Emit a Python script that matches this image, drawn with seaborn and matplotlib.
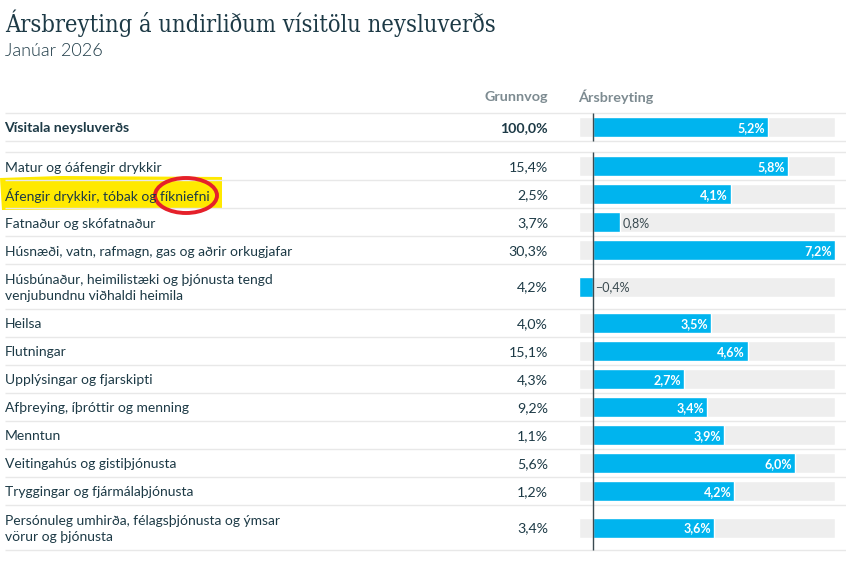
"""
Arsbreyting a undirlidum visitolu neysluverds - table with diverging bars
"""

import pandas as pd
import matplotlib
matplotlib.use("Agg")
import matplotlib.pyplot as plt
from matplotlib.patches import Ellipse, Polygon
import seaborn as sns

categories = [
    "Vísitala neysluverðs",
    "Matur og óáfengir drykkir",
    "Áfengir drykkir, tóbak og fíkniefni",
    "Fatnaður og skófatnaður",
    "Húsnæði, vatn, rafmagn, gas og aðrir orkugjafar",
    "Húsbúnaður, heimilistæki og þjónusta tengd\nvenjubundnu viðhaldi heimila",
    "Heilsa",
    "Flutningar",
    "Upplýsingar og fjarskipti",
    "Afþreying, íþróttir og menning",
    "Menntun",
    "Veitingahús og gistiþjónusta",
    "Tryggingar og fjármálaþjónusta",
    "Persónuleg umhirða, félagsþjónusta og ýmsar\nvörur og þjónusta",
]
weights = [100.0, 15.4, 2.5, 3.7, 30.3, 4.2, 4.0, 15.1, 4.3, 9.2, 1.1, 5.6, 1.2, 3.4]
changes = [5.2, 5.8, 4.1, 0.8, 7.2, -0.4, 3.5, 4.6, 2.7, 3.4, 3.9, 6.0, 4.2, 3.6]

TITLE = "Ársbreyting á undirliðum vísitölu neysluverðs"
SUBTITLE = "Janúar 2026"
HEAD_WEIGHT = "Grunnvog"
HEAD_CHANGE = "Ársbreyting"

INK = "#1d3a46"
HEAD_INK = "#7d8b91"
RULE = "#e8e8e8"
BLUE = "#00b4ee"
TRACK = "#eeeeee"

W, H = 846, 566
X_MIN, X_MAX = -0.44, 7.2
TRACK_MIN = -0.415


def fmt(v):
    return f"{v:.1f}%".replace(".", ",").replace("-", "\u2212")


# ------ row layout (pixels from top) ------
tops, bottoms = [], []
y = 113
for i, name in enumerate(categories):
    h = 45 if "\n" in name else 28
    tops.append(y)
    bottoms.append(y + h)
    y += h
    if i == 0:
        y += 11
centers = [(a + b) / 2 for a, b in zip(tops, bottoms)]

df = pd.DataFrame({"pos": centers, "change": changes})

sns.set_theme(style="white")
plt.rcParams["font.family"] = ["Lato", "DejaVu Sans"]

fig = plt.figure(figsize=(W / 100, H / 100), dpi=100)
fig.patch.set_facecolor("white")

# full-figure layer in pixel coordinates for the table part
bg = fig.add_axes([0, 0, 1, 1])
bg.set_xlim(0, W)
bg.set_ylim(H, 0)
bg.axis("off")

# ------ highlight drawn by hand on the screenshot ------
bg.add_patch(Polygon([(0, 178), (60, 176), (222, 177), (222, 209), (120, 209), (2, 210)],
                     closed=True, color="#ffe900", lw=0, zorder=1))
bg.add_patch(Ellipse((186, 195.5), 62, 35, fill=False, ec="#e5202a", lw=2.8, zorder=5))

# ------ rules ------
for yy in sorted(set(tops + bottoms)):
    bg.plot([5, 846], [yy, yy], color=RULE, lw=1, zorder=2, solid_capstyle="butt")

# ------ text ------
bg.text(5, 23, TITLE, family="DejaVu Serif", stretch="condensed", fontsize=17, color=INK, va="center")
bg.text(5, 51.5, SUBTITLE, fontsize=13, fontweight=300, color=INK, va="center")
bg.text(548, 97, HEAD_WEIGHT, fontsize=10.4, fontweight="bold", color=HEAD_INK, ha="right", va="center")
bg.text(578, 97, HEAD_CHANGE, fontsize=10.4, fontweight="bold", color=HEAD_INK, ha="left", va="center")

for i, (name, w, c) in enumerate(zip(categories, weights, centers)):
    weight = "bold" if i == 0 else "normal"
    bg.text(5 if i else 4.5, c + 1.5, name, fontsize=10.2 if i == 0 else 10, color=INK, fontweight=weight,
            va="center", linespacing=1.42, zorder=6)
    bg.text(548, c + 1, fmt(w), fontsize=10.2, color=INK, fontweight=weight, ha="right",
            va="center", zorder=6)

# ------ bars ------
ax = fig.add_axes([578 / W, 0, (835 - 578) / W, 1])
ax.patch.set_alpha(0)
bar_w = 20 / 28
track = df.assign(change=X_MAX)
sns.barplot(data=track, x="change", y="pos", orient="y", native_scale=True, color=TRACK,
            saturation=1, width=bar_w, ax=ax, errorbar=None)
for p in ax.patches:
    p.set_x(TRACK_MIN)
    p.set_width(X_MAX - TRACK_MIN)
sns.barplot(data=df, x="change", y="pos", orient="y", native_scale=True, color=BLUE,
            saturation=1, width=bar_w, ax=ax, errorbar=None)
ax.set_xlim(X_MIN, X_MAX)
ax.set_ylim(H, 0)
ax.axis("off")

for a, b in [(tops[0], bottoms[0]), (tops[1], bottoms[-1])]:
    ax.plot([0, 0], [a, b], color="#3a4a50", lw=1, zorder=5, solid_capstyle="butt")

for v, c in zip(changes, centers):
    if v > 1:
        ax.annotate(fmt(v), (v, c + 1), xytext=(-2, 0), textcoords="offset points", ha="right",
                    va="center", fontsize=9, color="white", fontweight="bold", zorder=6)
    else:
        ax.annotate(fmt(v), (max(v, 0), c + 1), xytext=(2, 0), textcoords="offset points", ha="left",
                    va="center", fontsize=9, color="#3a4a50", zorder=6)

fig.savefig("out.png", dpi=100)
